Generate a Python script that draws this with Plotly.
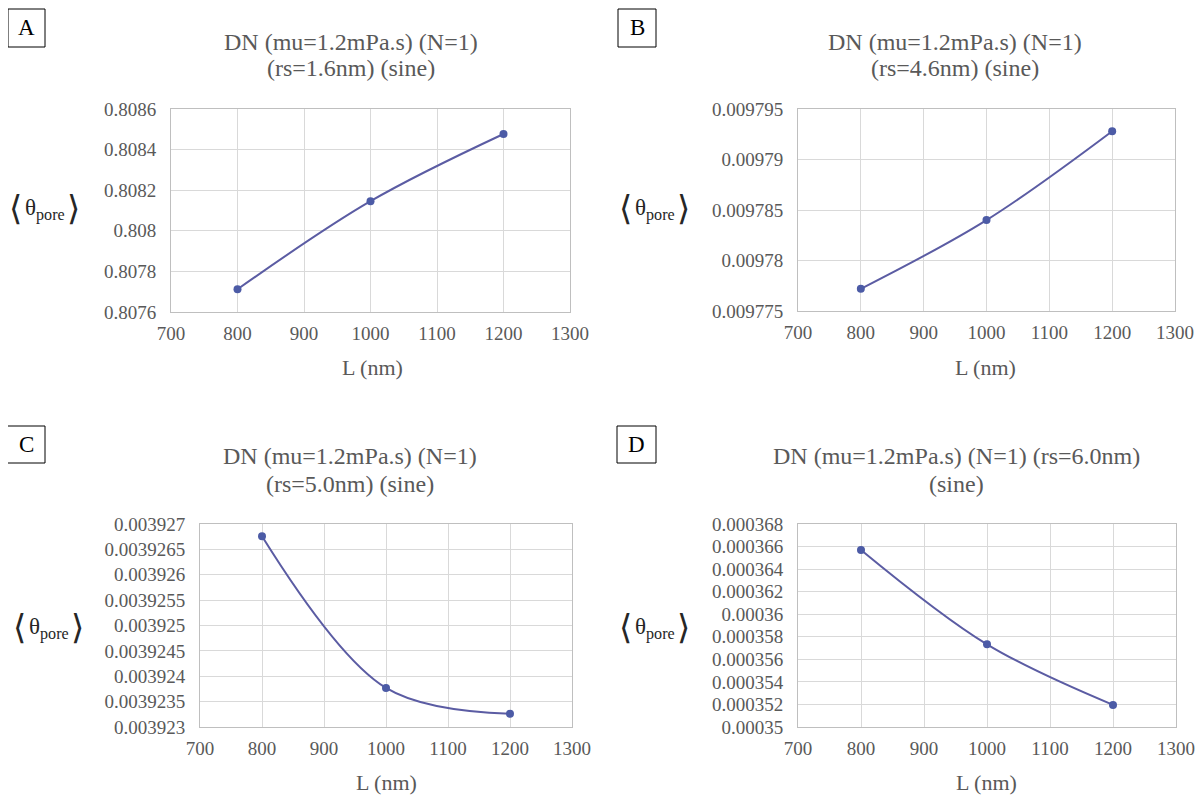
import plotly.graph_objects as go

# ---------------- data ----------------
L_nm = [800, 1000, 1200]
theta_A = [0.807712, 0.808146, 0.808477]
theta_B = [0.0097772, 0.0097840, 0.0097928]
theta_C = [0.00392676, 0.00392377, 0.00392326]
theta_D = [0.0003657, 0.00035733, 0.00035196]

x_tick_labels = ["700", "800", "900", "1000", "1100", "1200", "1300"]
y_ticks_A = ["0.8076", "0.8078", "0.808", "0.8082", "0.8084", "0.8086"]
y_ticks_B = ["0.009775", "0.00978", "0.009785", "0.00979", "0.009795"]
y_ticks_C = ["0.003923", "0.0039235", "0.003924", "0.0039245", "0.003925",
             "0.0039255", "0.003926", "0.0039265", "0.003927"]
y_ticks_D = ["0.00035", "0.000352", "0.000354", "0.000356", "0.000358",
             "0.00036", "0.000362", "0.000364", "0.000366", "0.000368"]

title_lines = [
    ["DN (mu=1.2mPa.s) (N=1)", "(rs=1.6nm) (sine)"],
    ["DN (mu=1.2mPa.s) (N=1)", "(rs=4.6nm) (sine)"],
    ["DN (mu=1.2mPa.s) (N=1)", "(rs=5.0nm) (sine)"],
    ["DN (mu=1.2mPa.s) (N=1) (rs=6.0nm)", "(sine)"],
]
letters = ["A", "B", "C", "D"]
x_title = "L (nm)"
y_title = "θ<sub>pore</sub>"
bracket_l, bracket_r = "⟨", "⟩"

# ---------------- layout helpers ----------------
# the page places the figure 8px from its top-left corner, so the figure is
# made 8px smaller and page pixel positions are converted to figure fractions
OFF = 8
W, H = 1203 - OFF, 796 - OFF
def fx(x): return (x - OFF) / W
def fy(y): return 1 - (y - OFF) / H

series = [theta_A, theta_B, theta_C, theta_D]
yticks = [y_ticks_A, y_ticks_B, y_ticks_C, y_ticks_D]
boxes = [(171, 109, 570, 312), (798, 109, 1175, 311),
         (200, 524, 572, 727), (798, 524, 1176, 727)]
title_pos = [(351, 42, 68), (955, 42, 68), (350, 456, 484), (956, 456, 484)]
ylab_pos = [(44, 209), (654, 209), (48, 628), (654, 628)]
xlab_pos = [(372, 367), (985, 367), (386, 782), (986, 782)]
letter_boxes = [(8, 9, 45, 47), (618, 9, 656, 47), (7, 426, 45, 463), (617, 426, 656, 463)]

SERIF = "Liberation Serif"
GRAY = "#595959"
GRID = "#d9d9d9"
LINE = "#5b5ca3"
MARK = "#4c5ba6"

fig = go.Figure()
annotations = []
shapes = []

def ann(text, x, y, size, color, family=SERIF):
    annotations.append(dict(text=text, x=fx(x), y=fy(y), xref="paper", yref="paper",
                            showarrow=False, xanchor="center", yanchor="middle",
                            font=dict(family=family, size=size, color=color)))

for i in range(4):
    sfx = "" if i == 0 else str(i + 1)
    fig.add_trace(go.Scatter(
        x=L_nm, y=series[i], mode="lines+markers",
        line=dict(color=LINE, width=2, shape="spline", smoothing=1.0),
        marker=dict(color=MARK, size=8),
        xaxis="x" + sfx, yaxis="y" + sfx, showlegend=False,
    ))
    l, t, r, b = boxes[i]
    tv = [float(s) for s in yticks[i]]
    fig.layout["xaxis" + sfx] = dict(
        domain=[fx(l), fx(r)], anchor="y" + sfx, automargin=False,
        range=[700, 1300], tickvals=[float(s) for s in x_tick_labels],
        ticktext=x_tick_labels, showgrid=True, gridcolor=GRID, gridwidth=1,
        showline=True, linecolor="#bfbfbf", mirror=True, zeroline=False,
        ticks="", ticklabelstandoff=4,
        tickfont=dict(family=SERIF, size=19, color=GRAY),
    )
    fig.layout["yaxis" + sfx] = dict(
        domain=[fy(b), fy(t)], anchor="x" + sfx, automargin=False,
        range=[tv[0], tv[-1]], tickvals=tv, ticktext=yticks[i],
        showgrid=True, gridcolor=GRID, gridwidth=1,
        showline=True, linecolor="#bfbfbf", mirror=True, zeroline=False,
        ticks="", ticklabelstandoff=10,
        tickfont=dict(family=SERIF, size=19, color=GRAY),
    )
    tx, ty1, ty2 = title_pos[i]
    ann(title_lines[i][0], tx, ty1, 24, GRAY)
    ann(title_lines[i][1], tx, ty2, 24, GRAY)
    lx, ly = ylab_pos[i]
    ann(y_title, lx + 1, ly, 23, "#262626")
    ann(bracket_l, lx - 29, ly - 1, 34, "#262626", "DejaVu Sans")
    ann(bracket_r, lx + 29, ly - 1, 34, "#262626", "DejaVu Sans")
    ax_, ay_ = xlab_pos[i]
    ann(x_title, ax_, ay_, 22, GRAY)
    bl, bt, br, bb = letter_boxes[i]
    shapes.append(dict(type="rect", xref="paper", yref="paper",
                       x0=fx(bl), x1=fx(br), y0=fy(bb), y1=fy(bt),
                       line=dict(color="#000000", width=1)))
    ann(letters[i], (bl + br) / 2, (bt + bb) / 2, 23, "#000000")

fig.update_layout(
    width=W, height=H, margin=dict(l=0, r=0, t=0, b=0, autoexpand=False),
    paper_bgcolor="white", plot_bgcolor="white",
    font=dict(family=SERIF),
    annotations=annotations, shapes=shapes,
)

fig.write_html("out.html")
